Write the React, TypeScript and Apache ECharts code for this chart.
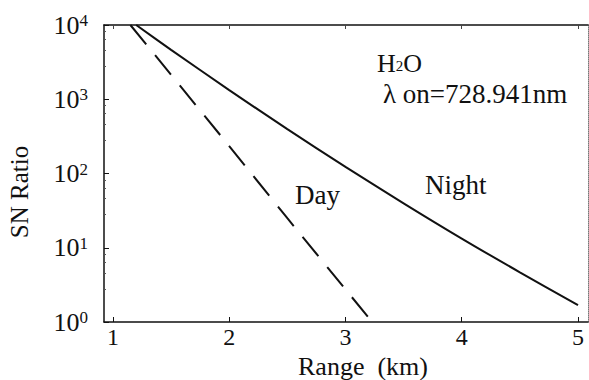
import React, { useEffect, useRef } from "react";
import * as echarts from "echarts";

// Range (km) and SN ratio
const nightRange = [1.2, 1.5, 2.0, 2.5, 3.0, 3.5, 4.0, 4.5, 5.0];
const nightSN = [10000, 4630, 1330, 396, 123, 39.7, 13.3, 4.67, 1.69];
const dayRange = [1.15, 1.5, 2.0, 2.5, 3.0, 3.23];
const daySN = [10000, 2140, 234, 25, 2.75, 1];
const xTickValues = [1, 2, 3, 4, 5];

const FONT = "'Liberation Serif', 'Times New Roman', serif";
const INK = "#111";

export default function App() {
  const ref = useRef<HTMLDivElement>(null);
  useEffect(() => {
    if (!ref.current) return;
    const chart = echarts.init(ref.current, null, { renderer: "svg" });
    const night = nightRange.map((x, i) => [x, nightSN[i]]);
    const day = dayRange.map((x, i) => [x, daySN[i]]);
    chart.setOption({
      animation: false,
      backgroundColor: "#fff",
      textStyle: { fontFamily: FONT, color: INK },
      grid: { left: 104, right: 1, top: 25, bottom: 58, outerBoundsMode: "none" },
      xAxis: [
        {
          type: "value",
          min: 0.923,
          max: 5.086,
          name: "Range\u00a0\u00a0(km)",
          nameLocation: "middle",
          nameGap: 27,
          nameTextStyle: { fontSize: 26, fontFamily: FONT, color: INK, padding: [0, 0, 0, 34] },
          axisLine: { show: true, lineStyle: { color: INK, width: 1.5 } },
          axisTick: { show: true, inside: true, length: 5, customValues: xTickValues, lineStyle: { color: INK } },
          axisLabel: { customValues: xTickValues, fontSize: 24, fontFamily: FONT, color: INK, margin: 3 },
          splitLine: { show: false },
        },
        {
          type: "value",
          position: "top",
          min: 0.923,
          max: 5.086,
          axisLine: { show: true, onZero: false, lineStyle: { color: INK, width: 1.5 } },
          axisTick: { show: true, inside: true, length: 4, customValues: xTickValues, lineStyle: { color: "#444" } },
          axisLabel: { show: false },
          splitLine: { show: false },
        },
      ],
      yAxis: [
        {
          type: "log",
          logBase: 10,
          min: 1,
          max: 10000,
          name: "SN Ratio",
          nameLocation: "middle",
          nameGap: 72,
          nameTextStyle: { fontSize: 25, fontFamily: FONT, color: INK, padding: [0, 37, 0, 0] },
          axisLine: { show: true, lineStyle: { color: INK, width: 1.5 } },
          axisTick: { show: true, inside: true, length: 5, lineStyle: { color: INK } },
          minorTick: { show: true, splitNumber: 5, length: 2, lineStyle: { color: "#555" } },
          axisLabel: {
            margin: 16,
            fontSize: 26,
            fontFamily: FONT,
            color: INK,
            formatter: (v: number) => `10{sup|${Math.round(Math.log10(v))}}`,
            rich: {
              sup: { fontSize: 17, fontFamily: FONT, color: INK, verticalAlign: "top", padding: [0, 0, 8, 0] },
            },
          },
          splitLine: { show: false },
        },
        {
          type: "log",
          logBase: 10,
          min: 1,
          max: 10000,
          position: "right",
          axisLine: { show: true, lineStyle: { color: "#777", width: 1, type: "dotted" } },
          axisTick: { show: false },
          axisLabel: { show: false },
          splitLine: { show: false },
        },
      ],
      series: [
        {
          name: "Night",
          type: "line",
          data: night,
          showSymbol: false,
          smooth: 0.3,
          lineStyle: { color: INK, width: 2 },
        },
        {
          name: "Day",
          type: "line",
          data: day,
          showSymbol: false,
          lineStyle: { color: INK, width: 2, type: [25, 14] },
        },
      ],
      graphic: [
        {
          type: "text",
          x: 377,
          y: 63,
          style: {
            text: "{a|H}{b|2}{a|O}",
            textVerticalAlign: "middle",
            rich: {
              a: { fontSize: 26, fontFamily: FONT, fill: INK },
              b: { fontSize: 15, fontFamily: FONT, fill: INK, verticalAlign: "bottom", padding: [0, 0, 3, 0] },
            },
          },
        },
        {
          type: "text",
          x: 383,
          y: 94,
          style: { text: "λ on=728.941nm", font: `27px ${FONT}`, fill: INK, textVerticalAlign: "middle" },
        },
        {
          type: "text",
          x: 295,
          y: 195,
          style: { text: "Day", font: `27px ${FONT}`, fill: INK, textVerticalAlign: "middle" },
        },
        {
          type: "text",
          x: 425,
          y: 185,
          style: { text: "Night", font: `27px ${FONT}`, fill: INK, textVerticalAlign: "middle" },
        },
      ],
    });
    return () => chart.dispose();
  }, []);
  return <div ref={ref} style={{ position: "fixed", left: 0, top: 0, width: 589, height: 380 }} />;
}
